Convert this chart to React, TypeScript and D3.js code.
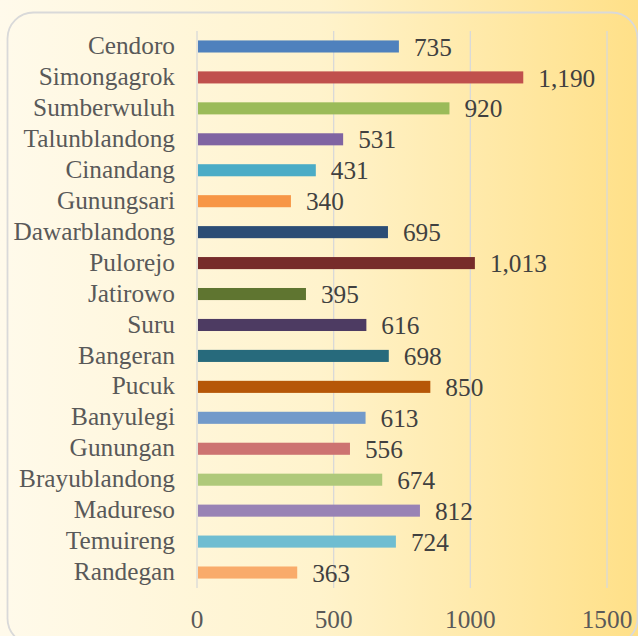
import React from 'react';
import * as d3 from 'd3';

const villages = [
  'Cendoro', 'Simongagrok', 'Sumberwuluh', 'Talunblandong', 'Cinandang', 'Gunungsari',
  'Dawarblandong', 'Pulorejo', 'Jatirowo', 'Suru', 'Bangeran', 'Pucuk',
  'Banyulegi', 'Gunungan', 'Brayublandong', 'Madureso', 'Temuireng', 'Randegan'
];
const counts = [735, 1190, 920, 531, 431, 340, 695, 1013, 395, 616, 698, 850, 613, 556, 674, 812, 724, 363];
const barColors = [
  '#4f81bd', '#c0504d', '#9bbb59', '#8064a2', '#4bacc6', '#f79646',
  '#2c4d75', '#772c2a', '#5f7530', '#4d3b62', '#276a7c', '#b65708',
  '#729aca', '#cd7371', '#afc97a', '#9983b5', '#6fbdd1', '#f9ab6b'
];
const xTicks = [0, 500, 1000, 1500];

const W = 638, H = 636;
const FONT = '"Liberation Serif", serif';
const FS = 25.3;

export default function App() {
  const x = d3.scaleLinear().domain([0, 1500]).range([197, 607]);
  const y = d3.scaleBand().domain(villages).range([31, 588]).paddingInner(0.61).paddingOuter(0.305);
  const fmt = d3.format(',');

  return (
    <svg width={W} height={H} style={{ position: 'absolute', left: 0, top: 0 }}>
      <defs>
        <linearGradient id="bg" x1="0" x2="1" y1="0" y2="0">
          <stop offset="0" stopColor="#fffaeb" />
          <stop offset="0.5" stopColor="#fff3cc" />
          <stop offset="1" stopColor="#ffe088" />
        </linearGradient>
      </defs>
      <rect width={W} height={H} fill="url(#bg)" />
      <rect x={7.5} y={12.5} width={630} height={632} rx={26} fill="none" stroke="#d9d9d9" strokeWidth={1.8} />

      {xTicks.map(t => (
        <line key={t} x1={x(t)} x2={x(t)} y1={31} y2={588} stroke="#d9d9d9" strokeWidth={1.3} />
      ))}

      {villages.map((v, i) => (
        <g key={v}>
          <rect x={x(0) + 1} y={y(v)} width={x(counts[i]) - x(0)} height={y.bandwidth()} fill={barColors[i]} />
          <text x={175} y={y(v)! + y.bandwidth() / 2} dy="0.3em" textAnchor="end"
            fontFamily={FONT} fontSize={FS} fill="#595959">{v}</text>
          <text x={x(counts[i]) + 16} y={y(v)! + y.bandwidth() / 2} dy="0.36em"
            fontFamily={FONT} fontSize={FS} fill="#404040">{fmt(counts[i])}</text>
        </g>
      ))}

      {xTicks.map(t => (
        <text key={t} x={x(t)} y={628} textAnchor="middle" fontFamily={FONT} fontSize={FS} fill="#595959">{t}</text>
      ))}
    </svg>
  );
}
